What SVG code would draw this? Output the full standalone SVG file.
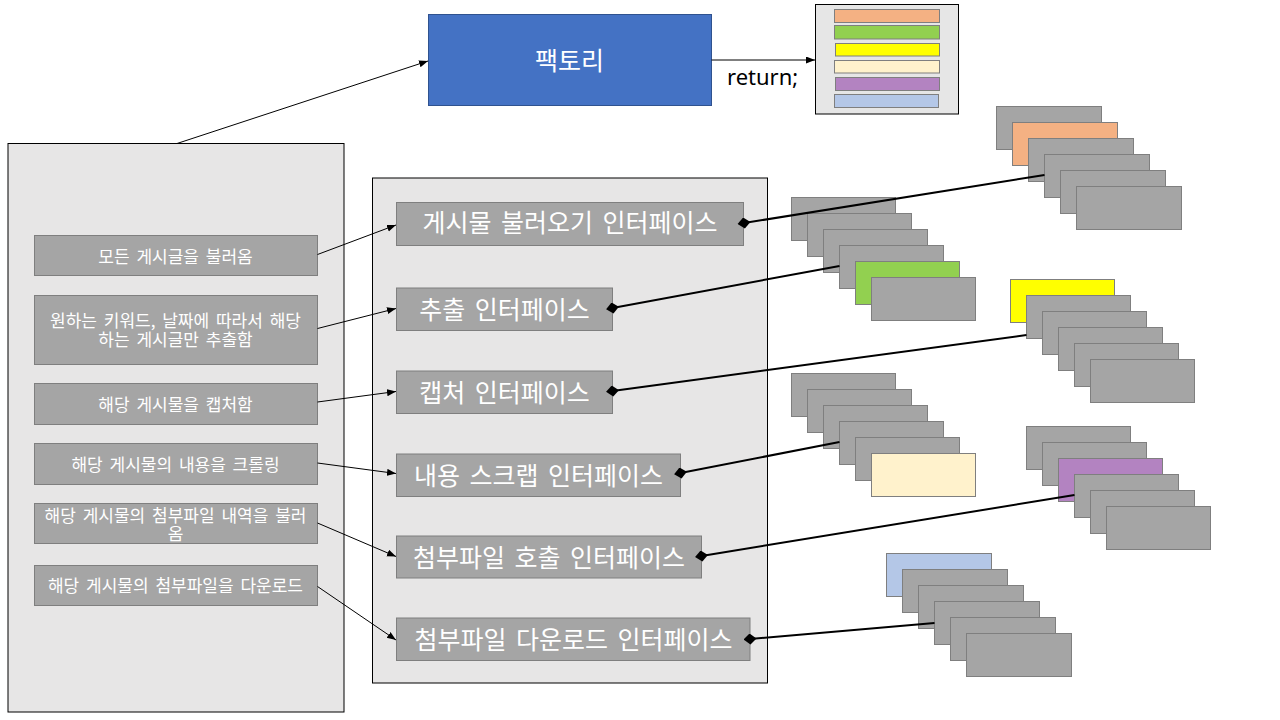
<svg xmlns="http://www.w3.org/2000/svg" width="1280" height="720" viewBox="0 0 1280 720">
<style>
.panel{fill:#e7e6e6;stroke:#000;stroke-width:1}
.gbox{fill:#a5a5a5;stroke:#7f7f7f;stroke-width:1}
.stk{stroke:#7f7f7f;stroke-width:1}
.g{fill:#a5a5a5}
.lt{font-family:"Noto Sans CJK KR","Noto Sans",sans-serif;font-size:17px;fill:#fff;text-anchor:middle;word-spacing:3px}
.it{font-family:"Noto Sans CJK KR","Noto Sans",sans-serif;font-size:25px;fill:#fff;text-anchor:middle;word-spacing:4px}
.arr{stroke:#000;stroke-width:1;fill:none;marker-end:url(#ah)}
.dia{stroke:#000;stroke-width:2;fill:none;marker-start:url(#dm)}
</style>
<defs>
<marker id="ah" markerUnits="userSpaceOnUse" markerWidth="10" markerHeight="8" refX="9" refY="3.5" orient="auto">
<path d="M0,0 L9,3.5 L0,7 Z" fill="#000"/>
</marker>
<marker id="dm" markerUnits="userSpaceOnUse" markerWidth="14" markerHeight="12" refX="6.5" refY="5.5" orient="auto">
<path d="M0,5.5 L6.5,0 L13,5.5 L6.5,11 Z" fill="#000"/>
</marker>
</defs>
<rect width="1280" height="720" fill="#fff"/>

<g id="left-panel">
<rect class="panel" x="8" y="143.5" width="336" height="568.5"/>
</g>
<g id="interface-panel">
<rect class="panel" x="372.5" y="178" width="395" height="505"/>
</g>

<g id="factory">
<rect x="428.5" y="14.5" width="283" height="91" fill="#4472c4" stroke="#2f528f" stroke-width="1"/>
<text x="569.5" y="69.5" style="font-family:'Noto Sans CJK KR','Noto Sans',sans-serif;font-size:25px;fill:#fff;text-anchor:middle">팩토리</text>
</g>

<g id="product-list">
<rect x="815.5" y="4.5" width="143" height="109.5" fill="#e6e6e6" stroke="#000" stroke-width="1"/>
<rect class="stk" x="834.5" y="9.5" width="105" height="13" fill="#f4b183"/>
<rect class="stk" x="834.5" y="25.5" width="105" height="13.5" fill="#92d050"/>
<rect class="stk" x="835.5" y="43.5" width="104" height="12.5" fill="#ffff00"/>
<rect class="stk" x="834.5" y="60.5" width="105" height="12.5" fill="#fff2cc"/>
<rect class="stk" x="835.5" y="77.5" width="104" height="13" fill="#b383c1"/>
<rect class="stk" x="834.5" y="94.5" width="104" height="13" fill="#b4c7e7"/>
</g>

<g id="desc-1"><rect class="gbox" x="34.5" y="235.5" width="283" height="40"/><text class="lt" x="175.5" y="263">모든 게시글을 불러옴</text></g>
<g id="desc-2"><rect class="gbox" x="34.5" y="295.5" width="283" height="69"/><text class="lt" x="175.5" y="326.5">원하는 키워드, 날짜에 따라서 해당</text><text class="lt" x="175.5" y="346">하는 게시글만 추출함</text></g>
<g id="desc-3"><rect class="gbox" x="34.5" y="383.5" width="283" height="41"/><text class="lt" x="175.5" y="411">해당 게시물을 캡처함</text></g>
<g id="desc-4"><rect class="gbox" x="34.5" y="443.5" width="283" height="41"/><text class="lt" x="175.5" y="470.5">해당 게시물의 내용을 크롤링</text></g>
<g id="desc-5"><rect class="gbox" x="34.5" y="503.5" width="283" height="40"/><text class="lt" x="175.5" y="521.5">해당 게시물의 첨부파일 내역을 불러</text><text class="lt" x="175.5" y="540">옴</text></g>
<g id="desc-6"><rect class="gbox" x="34.5" y="565.5" width="283" height="40"/><text class="lt" x="175.5" y="592">해당 게시물의 첨부파일을 다운로드</text></g>

<g id="if-1"><rect class="gbox" x="396.5" y="202.5" width="347" height="43"/><text class="it" x="570" y="232">게시물 불러오기 인터페이스</text></g>
<g id="if-2"><rect class="gbox" x="396.5" y="288" width="216" height="42.5"/><text class="it" x="504.5" y="318.5">추출 인터페이스</text></g>
<g id="if-3"><rect class="gbox" x="396.5" y="371" width="216" height="42.5"/><text class="it" x="504.5" y="401.5">캡처 인터페이스</text></g>
<g id="if-4"><rect class="gbox" x="396.5" y="454" width="284" height="42.5"/><text class="it" x="538.5" y="484.5">내용 스크랩 인터페이스</text></g>
<g id="if-5"><rect class="gbox" x="396.5" y="536" width="305" height="42"/><text class="it" x="549" y="566.5">첨부파일 호출 인터페이스</text></g>
<g id="if-6"><rect class="gbox" x="396.5" y="618" width="353.5" height="42.5"/><text class="it" x="573.5" y="648.5">첨부파일 다운로드 인터페이스</text></g>

<g id="stack-1">
<rect class="stk g" x="996.5" y="106.5" width="105" height="43"/>
<rect class="stk" x="1012.5" y="122.5" width="105" height="43" fill="#f4b183"/>
<rect class="stk g" x="1028.5" y="138.5" width="105" height="43"/>
<rect class="stk g" x="1044.5" y="154.5" width="105" height="43"/>
<rect class="stk g" x="1060.5" y="170.5" width="105" height="43"/>
<rect class="stk g" x="1076.5" y="186.5" width="105" height="43"/>
</g>
<g id="stack-2">
<rect class="stk g" x="791.5" y="197.5" width="104" height="43"/>
<rect class="stk g" x="807.5" y="213.5" width="104" height="43"/>
<rect class="stk g" x="823.5" y="229.5" width="104" height="43"/>
<rect class="stk g" x="839.5" y="245.5" width="104" height="43"/>
<rect class="stk" x="855.5" y="261.5" width="104" height="43" fill="#92d050"/>
<rect class="stk g" x="871.5" y="277.5" width="104" height="43"/>
</g>
<g id="stack-3">
<rect class="stk" x="1010.5" y="279.5" width="104" height="43" fill="#ffff00"/>
<rect class="stk g" x="1026.5" y="295.5" width="104" height="43"/>
<rect class="stk g" x="1042.5" y="311.5" width="104" height="43"/>
<rect class="stk g" x="1058.5" y="327.5" width="104" height="43"/>
<rect class="stk g" x="1074.5" y="343.5" width="104" height="43"/>
<rect class="stk g" x="1090.5" y="359.5" width="104" height="43"/>
</g>
<g id="stack-4">
<rect class="stk g" x="791.5" y="373.5" width="104" height="43"/>
<rect class="stk g" x="807.5" y="389.5" width="104" height="43"/>
<rect class="stk g" x="823.5" y="405.5" width="104" height="43"/>
<rect class="stk g" x="839.5" y="421.5" width="104" height="43"/>
<rect class="stk g" x="855.5" y="437.5" width="104" height="43"/>
<rect class="stk" x="871.5" y="453.5" width="104" height="43" fill="#fff2cc"/>
</g>
<g id="stack-5">
<rect class="stk g" x="1026.5" y="426.5" width="104" height="43"/>
<rect class="stk g" x="1042.5" y="442.5" width="104" height="43"/>
<rect class="stk" x="1058.5" y="458.5" width="104" height="43" fill="#b383c1"/>
<rect class="stk g" x="1074.5" y="474.5" width="104" height="43"/>
<rect class="stk g" x="1090.5" y="490.5" width="104" height="43"/>
<rect class="stk g" x="1106.5" y="506.5" width="104" height="43"/>
</g>
<g id="stack-6">
<rect class="stk" x="886.5" y="553.5" width="105" height="43" fill="#b4c7e7"/>
<rect class="stk g" x="902.5" y="569.5" width="105" height="43"/>
<rect class="stk g" x="918.5" y="585.5" width="105" height="43"/>
<rect class="stk g" x="934.5" y="601.5" width="105" height="43"/>
<rect class="stk g" x="950.5" y="617.5" width="105" height="43"/>
<rect class="stk g" x="966.5" y="633.5" width="105" height="43"/>
</g>

<g id="connectors">
<line class="arr" x1="177" y1="143.5" x2="428" y2="61"/>
<line class="arr" x1="711.5" y1="60" x2="815" y2="60"/>
<text x="727" y="85" style="font-family:'Noto Sans',sans-serif;font-size:22px;fill:#000">return;</text>
<line class="arr" x1="317.5" y1="254.5" x2="396" y2="225"/>
<line class="arr" x1="317.5" y1="328.5" x2="396" y2="308.5"/>
<line class="arr" x1="317.5" y1="402" x2="396" y2="391.5"/>
<line class="arr" x1="317.5" y1="463" x2="396" y2="473.5"/>
<line class="arr" x1="317.5" y1="523" x2="396" y2="556.5"/>
<line class="arr" x1="317.5" y1="586.5" x2="396" y2="640"/>
<line class="dia" x1="744" y1="223" x2="1044.5" y2="175"/>
<line class="dia" x1="612.5" y1="308" x2="839.5" y2="266"/>
<line class="dia" x1="612.5" y1="391" x2="1026.5" y2="335"/>
<line class="dia" x1="680.5" y1="473" x2="839.5" y2="442"/>
<line class="dia" x1="701.5" y1="556" x2="1074.5" y2="495"/>
<line class="dia" x1="750" y1="639" x2="934.5" y2="623"/>
</g>
</svg>
